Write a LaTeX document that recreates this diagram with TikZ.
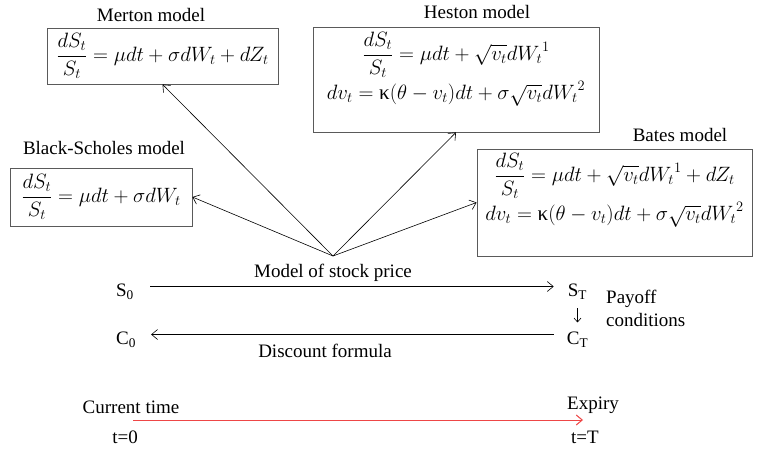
\documentclass[tikz,border=0pt]{standalone}
\usepackage{amsmath}
\usepackage{fontspec}
\setmainfont{Liberation Serif}
\usetikzlibrary{arrows.meta}
\definecolor{boxgray}{RGB}{90,90,90}
\definecolor{tlred}{RGB}{238,70,70}
\newcommand\mbig{\fontsize{22.5}{27}\selectfont}
\newcommand\mmid{\fontsize{21}{25}\selectfont}
\tikzset{
  box/.style={draw=boxgray, line width=0.8pt, inner sep=0pt},
  lbl/.style={inner sep=0pt},
  arr/.style={-{Straight Barb[length=6pt,width=10pt]}, line width=0.6pt},
  smallarr/.style={-{Straight Barb[length=4pt,width=7pt]}, line width=0.6pt},
}
\begin{document}
\begin{tikzpicture}[x=1pt,y=-1pt, font=\fontsize{19}{23}\selectfont]
\useasboundingbox (0,0) rectangle (764,449);
% model boxes
\node[box, minimum width=231pt, minimum height=56pt, font=\mbig] (merton) at (162.5,56)
  {$\displaystyle\frac{dS_t}{S_t}=\mu dt+\sigma dW_t+dZ_t$};
\node[box, minimum width=286pt, minimum height=105pt] (heston) at (456,79.5) {};
\node[lbl, anchor=north, align=center, font=\mmid] (hestoneq) at ([yshift=-5pt]heston.north)
  {$\displaystyle\frac{dS_t}{S_t}=\mu dt+\sqrt{v_t}d{W_t}^{1}$\\[3pt]
   $dv_t=\text{κ}(\theta-v_t)dt+\sigma\sqrt{v_t}d{W_t}^{2}$};
\node[box, minimum width=275pt, minimum height=107pt] (bates) at (614.5,202.5) {};
\node[lbl, anchor=north, align=center, font=\mmid] (bateseq) at ([yshift=-4pt]bates.north)
  {$\displaystyle\frac{dS_t}{S_t}=\mu dt+\sqrt{v_t}d{W_t}^{1}+dZ_t$\\[3pt]
   $dv_t=\text{κ}(\theta-v_t)dt+\sigma\sqrt{v_t}d{W_t}^{2}$};
\node[box, minimum width=182pt, minimum height=58pt, font=\mbig] (bs) at (101,197)
  {$\displaystyle\frac{dS_t}{S_t}=\mu dt+\sigma dW_t$};
% titles
\node[lbl] (mertont) at (151,15) {Merton model};
\node[lbl] (hestont) at (477,12) {Heston model};
\node[lbl] (batest) at (680,135) {Bates model};
\node[lbl] (bst) at (104,148) {Black-Scholes model};
% fan
\coordinate (apex) at (333,256);
\draw[arr] (apex) -- (merton.south);
\draw[arr] (apex) -- (heston.south);
\draw[arr] (apex) -- (bates.west);
\draw[arr] (apex) -- (bs.east);
% stock / option rows
\node[lbl] (S0) at (125,291.5) {S\textsubscript{0}};
\node[lbl] (ST) at (577.5,291.5) {S\textsubscript{T}};
\node[lbl] (C0) at (126,339.5) {C\textsubscript{0}};
\node[lbl] (CT) at (577.5,339.5) {C\textsubscript{T}};
\draw[arr] ([xshift=16pt,yshift=5pt]S0.east) -- ([xshift=-14pt,yshift=5pt]ST.west);
\draw[arr] ([xshift=-13pt,yshift=5pt]CT.west) -- ([xshift=15pt,yshift=5pt]C0.east);
\draw[smallarr] ([yshift=-17pt]ST.center) -- ([yshift=17pt]CT.center);
\node[lbl] (model) at (333,273) {Model of stock price};
\node[lbl] (disc) at (325,351) {Discount formula};
\node[lbl, anchor=west, align=left] (payoff) at (606,308) {Payoff\\conditions};
% timeline
\node[lbl] (curr) at (131,407) {Current time};
\node[lbl] (t0l) at (125,437) {t=0};
\node[lbl] (exp) at (593,405) {Expiry};
\node[lbl] (tTl) at (585,437) {t=T};
\coordinate (tstart) at (133,420);
\coordinate (tend) at (583,420);
\draw[arr, tlred, line width=1pt] (tstart) -- (tend);
\end{tikzpicture}
\end{document}
